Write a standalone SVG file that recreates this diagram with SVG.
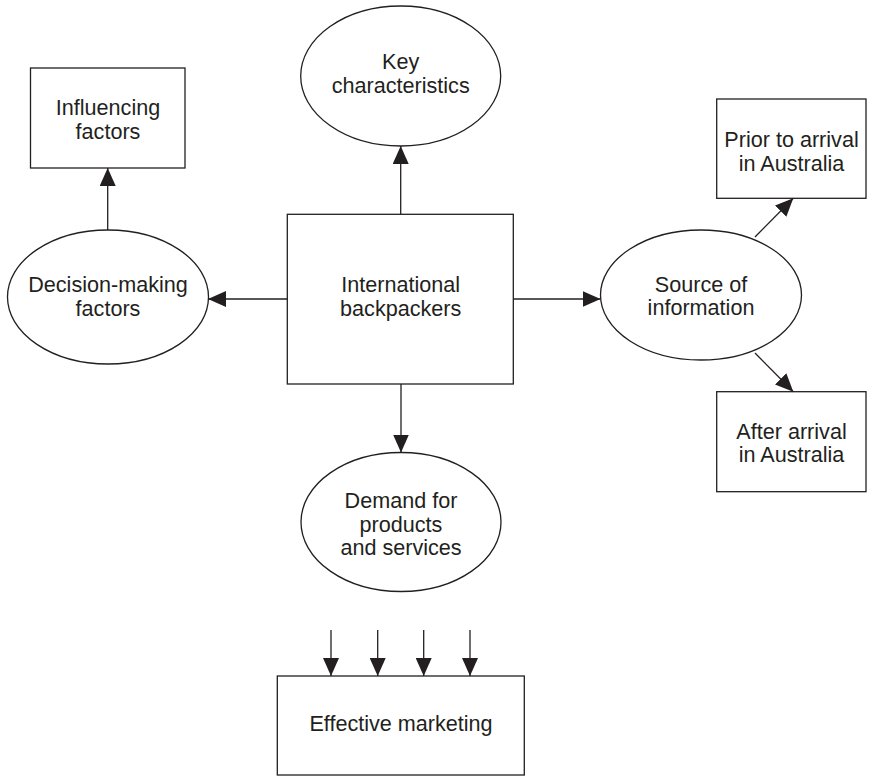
<svg xmlns="http://www.w3.org/2000/svg" width="870" height="777" viewBox="0 0 870 777">
  <style>
    .shape { fill: #ffffff; stroke: #231f20; stroke-width: 1.3; }
    .label { font-family: "Liberation Sans", Arial, sans-serif; font-size: 21.6px; fill: #231f20; text-anchor: middle; }
    .edge { fill: none; stroke: #231f20; stroke-width: 1.3; marker-end: url(#arrow); }
  </style>
  <defs>
    <marker id="arrow" markerUnits="userSpaceOnUse" markerWidth="18" markerHeight="16" refX="18" refY="8" orient="auto">
      <path d="M0,0 L18,8 L0,16 z" fill="#231f20"/>
    </marker>
  </defs>
  <rect width="870" height="777" fill="#ffffff"/>

  <g id="influencing-factors">
    <rect class="shape" x="30.5" y="68" width="154.5" height="100"/>
    <text class="label" x="108" y="115">Influencing</text>
    <text class="label" x="108" y="138.5">factors</text>
  </g>

  <g id="decision-making-factors">
    <ellipse class="shape" cx="108" cy="297" rx="100.5" ry="67"/>
    <text class="label" x="108" y="292">Decision-making</text>
    <text class="label" x="108" y="315.5">factors</text>
  </g>

  <g id="key-characteristics">
    <ellipse class="shape" cx="400.7" cy="76" rx="100" ry="70"/>
    <text class="label" x="400.7" y="69">Key</text>
    <text class="label" x="400.7" y="92.5">characteristics</text>
  </g>

  <g id="international-backpackers">
    <rect class="shape" x="287.3" y="214.3" width="226" height="169.7"/>
    <text class="label" x="400.7" y="292">International</text>
    <text class="label" x="400.7" y="315.5">backpackers</text>
  </g>

  <g id="source-of-information">
    <ellipse class="shape" cx="701" cy="295" rx="100.5" ry="65"/>
    <text class="label" x="701" y="291.5">Source of</text>
    <text class="label" x="701" y="315">information</text>
  </g>

  <g id="prior-to-arrival">
    <rect class="shape" x="716.7" y="99" width="149.3" height="99.3"/>
    <text class="label" x="791.5" y="147">Prior to arrival</text>
    <text class="label" x="791.5" y="171">in Australia</text>
  </g>

  <g id="after-arrival">
    <rect class="shape" x="716.7" y="391.7" width="149.3" height="100"/>
    <text class="label" x="791.5" y="438.5">After arrival</text>
    <text class="label" x="791.5" y="462">in Australia</text>
  </g>

  <g id="demand">
    <ellipse class="shape" cx="401" cy="522" rx="100" ry="69.5"/>
    <text class="label" x="401" y="508">Demand for</text>
    <text class="label" x="401" y="531.5">products</text>
    <text class="label" x="401" y="555">and services</text>
  </g>

  <g id="effective-marketing">
    <rect class="shape" x="277.3" y="676" width="247" height="99"/>
    <text class="label" x="401" y="731">Effective marketing</text>
  </g>

  <g id="connectors">
    <line class="edge" x1="107.7" y1="230" x2="107.7" y2="168"/>
    <line class="edge" x1="400.7" y1="214.3" x2="400.7" y2="146"/>
    <line class="edge" x1="287.3" y1="299" x2="208" y2="299"/>
    <line class="edge" x1="513.3" y1="299" x2="600.5" y2="299"/>
    <line class="edge" x1="401" y1="384" x2="401" y2="452.5"/>
    <line class="edge" x1="755" y1="237" x2="793.3" y2="198.3"/>
    <line class="edge" x1="755" y1="353" x2="793.3" y2="391.7"/>
    <line class="edge" x1="331" y1="630" x2="331" y2="676"/>
    <line class="edge" x1="377.7" y1="630" x2="377.7" y2="676"/>
    <line class="edge" x1="423.7" y1="630" x2="423.7" y2="676"/>
    <line class="edge" x1="470" y1="630" x2="470" y2="676"/>
  </g>
</svg>
